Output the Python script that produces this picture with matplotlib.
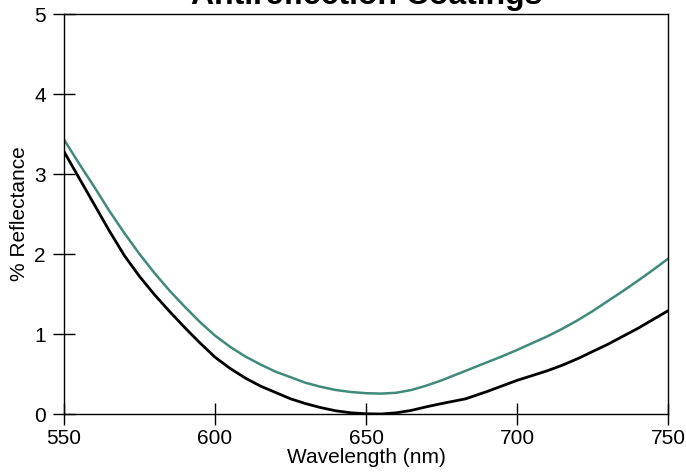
import numpy as np
import matplotlib
matplotlib.use("Agg")
import matplotlib.pyplot as plt

plt.rcParams['font.family'] = ['Liberation Sans', 'DejaVu Sans']

# wavelength (nm) and % reflectance
wl_teal = [550, 555, 560, 565, 570, 575, 580, 585, 590, 595, 600, 605, 610,
           615, 620, 625, 630, 635, 640, 645, 650, 655, 660, 665, 670, 675,
           680, 685, 690, 695, 700, 705, 710, 715, 720, 725, 730, 735, 740,
           745, 750]
refl_teal = [3.43, 3.13, 2.84, 2.54, 2.26, 2.00, 1.76, 1.54, 1.34, 1.15, 0.98,
             0.84, 0.72, 0.62, 0.53, 0.46, 0.39, 0.34, 0.30, 0.275, 0.26,
             0.255, 0.265, 0.30, 0.355, 0.42, 0.495, 0.57, 0.645, 0.72, 0.80,
             0.885, 0.97, 1.065, 1.17, 1.285, 1.41, 1.535, 1.665, 1.80, 1.94]

wl_black = [550, 555, 560, 565, 570, 575, 580, 585, 590, 595, 600, 605, 610,
            615, 620, 625, 630, 635, 640, 645, 650, 655, 660, 665, 670, 675,
            683, 690, 695, 700, 705, 710, 715, 720, 725, 730, 735, 740, 745,
            750]
refl_black = [3.28, 2.95, 2.62, 2.29, 1.98, 1.72, 1.49, 1.28, 1.08, 0.89, 0.71,
              0.57, 0.45, 0.35, 0.27, 0.19, 0.13, 0.08, 0.04, 0.015, 0.003,
              0.0, 0.015, 0.045, 0.09, 0.13, 0.19, 0.28, 0.35, 0.42, 0.48,
              0.54, 0.61, 0.69, 0.78, 0.87, 0.97, 1.07, 1.18, 1.29]

xticks = [550, 600, 650, 700, 750]
yticks = [0, 1, 2, 3, 4, 5]

fig = plt.figure(figsize=(6.86, 4.73), dpi=100)
ax = fig.add_axes([64 / 686, 59 / 473, 604 / 686, 400 / 473])

ax.plot(wl_teal, refl_teal, color='#3f8a7b', lw=1.8, solid_joinstyle='round')
ax.plot(wl_black, refl_black, color='black', lw=2.0, solid_joinstyle='round')

ax.set_xlim(550, 750)
ax.set_ylim(0, 5)
ax.set_xticks(xticks)
ax.set_yticks(yticks)
ax.tick_params(direction='inout', length=16, width=1, labelsize=15)
ax.tick_params(axis='x', pad=3)
ax.tick_params(axis='y', pad=5)
for s in ax.spines.values():
    s.set_linewidth(1)

ax.set_xlabel('Wavelength (nm)', fontsize=15, labelpad=0)
ax.set_ylabel('% Reflectance', fontsize=15, labelpad=4)

fig.text(0.535, 1 - 4 / 473, 'Antireflection Coatings', fontsize=23,
         fontweight='bold', ha='center', va='baseline')

fig.savefig('out.png', dpi=100)
